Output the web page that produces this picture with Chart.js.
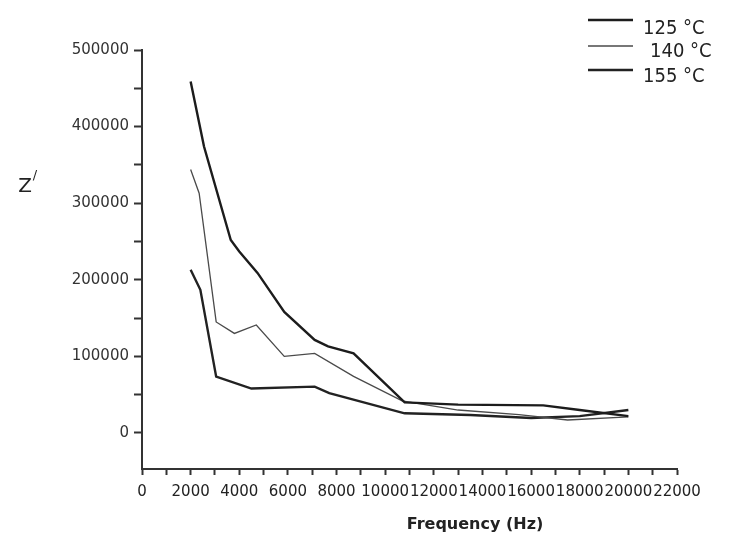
<!DOCTYPE html>
<html>
<head>
<meta charset="utf-8">
<script src="https://cdn.jsdelivr.net/npm/chart.js@4/dist/chart.umd.min.js"></script>
<style>
  html, body { margin: 0; padding: 0; background: #fff; }
  #wrap { width: 732px; height: 551px; position: relative; }
</style>
</head>
<body>
<div id="wrap"><canvas id="chart" width="732" height="551"></canvas></div>
<script>
// values
const seriesLabels = ["125 °C", "140 °C", "155 °C"];

const freq125 = [2000, 2550, 3650, 4000, 4750, 5850, 7100, 7650, 8700, 10800, 13000, 16500, 18000, 20000];
const z125 = [459000, 374000, 252000, 237000, 209000, 158000, 121500, 113000, 104000, 40000, 37000, 36000, 30000, 22000];

const freq140 = [2000, 2350, 3050, 3800, 4700, 5850, 7100, 8700, 10700, 13000, 15500, 17500, 20000];
const z140 = [344000, 313000, 145000, 130000, 141000, 100000, 104000, 74000, 42000, 30000, 24000, 17000, 21000];

const freq155 = [2000, 2400, 3050, 4500, 7100, 7700, 10800, 13500, 16000, 18000, 20000];
const z155 = [213000, 187000, 73600, 58000, 60500, 52000, 25700, 23500, 19500, 22000, 30000];

const xTicks = [0, 1000, 2000, 3000, 4000, 5000, 6000, 7000, 8000, 9000, 10000, 11000,
  12000, 13000, 14000, 15000, 16000, 17000, 18000, 19000, 20000, 21000, 22000];
const yTicks = [0, 50000, 100000, 150000, 200000, 250000, 300000, 350000, 400000, 450000, 500000];

function pts(xs, ys) {
  return xs.map((x, i) => ({ x: x, y: ys[i] }));
}

// axis titles and legend drawn by hand so they sit where the original has them
const extras = {
  id: "extras",
  afterDraw(chart) {
    const c = chart.ctx;
    c.save();
    c.fillStyle = "#222";
    c.textAlign = "center";
    c.textBaseline = "middle";
    c.font = "bold 16px 'DejaVu Sans'";
    c.fillText("Frequency (Hz)", 475, 525);

    c.font = "20px 'DejaVu Sans'";
    c.fillText("Z", 25, 187);
    c.font = "13px 'DejaVu Sans'";
    c.fillText("/", 35, 176);

    // legend
    const rows = [20, 46, 70];
    const textRows = [29, 52, 77];
    const textX = [643, 650, 643];
    c.font = "20px 'DejaVu Sans Condensed', 'DejaVu Sans'";
    c.textAlign = "left";
    chart.data.datasets.forEach((ds, i) => {
      c.strokeStyle = ds.borderColor;
      c.lineWidth = ds.borderWidth;
      c.beginPath();
      c.moveTo(588, rows[i]);
      c.lineTo(633, rows[i]);
      c.stroke();
      c.fillStyle = "#222";
      c.fillText(ds.label, textX[i], textRows[i]);
    });
    c.restore();
  }
};

new Chart(document.getElementById("chart").getContext("2d"), {
  type: "line",
  data: {
    datasets: [
      { label: seriesLabels[0], data: pts(freq125, z125), borderColor: "#1c1c1c", borderWidth: 2.4 },
      { label: seriesLabels[1], data: pts(freq140, z140), borderColor: "#4a4a4a", borderWidth: 1.3 },
      { label: seriesLabels[2], data: pts(freq155, z155), borderColor: "#222", borderWidth: 2.4 }
    ]
  },
  options: {
    responsive: false,
    animation: false,
    events: [],
    elements: { point: { radius: 0 }, line: { tension: 0 } },
    layout: { padding: { left: 0, right: 55, top: 50, bottom: 0 } },
    plugins: { legend: { display: false }, tooltip: { enabled: false } },
    scales: {
      x: {
        type: "linear",
        min: 0,
        max: 22000,
        afterBuildTicks(scale) { scale.ticks = xTicks.map(v => ({ value: v })); },
        afterFit(scale) { scale.height = 82; },
        border: { color: "#333", width: 2 },
        grid: { drawOnChartArea: false, tickLength: 6, tickColor: "#333", tickWidth: 2 },
        ticks: {
          autoSkip: false,
          maxRotation: 0,
          padding: 8,
          color: "#222",
          font: { family: "'DejaVu Sans'", size: 15 },
          callback: v => (v % 2000 === 0 ? String(v) : "")
        }
      },
      y: {
        type: "linear",
        min: -47000,
        max: 500000,
        afterBuildTicks(scale) { scale.ticks = yTicks.map(v => ({ value: v })); },
        afterFit(scale) { scale.width = 142; },
        border: { color: "#333", width: 2 },
        grid: { drawOnChartArea: false, tickLength: 8, tickColor: "#333", tickWidth: 2 },
        ticks: {
          padding: 5,
          color: "#333",
          font: { family: "'DejaVu Sans'", size: 15 },
          callback: v => (v % 100000 === 0 ? String(v) : "")
        }
      }
    }
  },
  plugins: [extras]
});
</script>
</body>
</html>
